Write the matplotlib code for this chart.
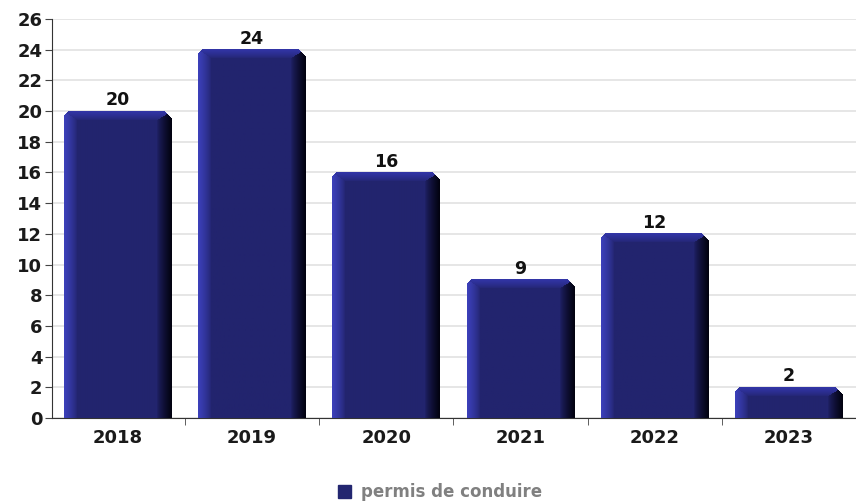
import numpy as np
import matplotlib
matplotlib.use("Agg")
import matplotlib.pyplot as plt
from matplotlib.patches import Rectangle

years = ["2018", "2019", "2020", "2021", "2022", "2023"]
permis = [20, 24, 16, 9, 12, 2]
series_name = "permis de conduire"

base = np.array([0x22, 0x24, 0x6e]) / 255
left_col = np.array([0x3c, 0x40, 0xba]) / 255
top_col = np.array([0x32, 0x35, 0xa6]) / 255
dark = np.array([0x02, 0x02, 0x10]) / 255


def bar_image(w, h):
    # bevelled front face of one bar, w x h pixels
    h = max(int(round(h)), 2)
    w = int(round(w))
    u = np.arange(w)[None, :].repeat(h, 0).astype(float)
    d = np.arange(h)[:, None].repeat(w, 1).astype(float)
    nl = u / 13
    nt = d / 9
    nr = (w - 1 - u) / 15
    n = np.minimum(np.minimum(nl, nt), nr)
    t = np.clip(1 - n, 0, 1) ** 0.75
    edge = np.zeros((h, w, 3))
    edge[:] = base
    edge[nl == n] = left_col
    edge[(nt == n) & (nl != n)] = top_col
    edge[(nr == n)] = dark
    img = np.zeros((h, w, 4))
    img[..., :3] = base * (1 - t[..., None]) + edge * t[..., None]
    img[..., 3] = np.where((d + u < 4) | (d + (w - 1 - u) < 7), 0, 1)
    return img


fig = plt.figure(figsize=(8.56, 5.04), dpi=100)
ax = fig.add_axes([52 / 856, 86 / 504, 804 / 856, 399 / 504])

x = np.arange(len(years))
bars = ax.bar(x, permis, width=0.8, color=base, zorder=2)

xmin, xmax = -0.489, 5.41
px_x = 804 / (xmax - xmin)
px_y = 399 / 26
for b, v in zip(bars, permis):
    x0 = b.get_x()
    w = b.get_width()
    b.set_visible(False)
    img = bar_image(w * px_x, v * px_y)
    ax.imshow(img, extent=(x0, x0 + w, 0, v), aspect="auto",
              interpolation="bilinear", zorder=3)
    ax.text(x0 + w / 2, v + 0.12, str(v), ha="center", va="bottom",
            fontsize=12.5, fontweight="bold", color="#111111", zorder=4)

ax.set_xlim(xmin, xmax)
ax.set_ylim(0, 26)
ax.set_yticks(np.arange(0, 27, 2))
ax.set_xticks(x)
ax.set_xticklabels(years)
ax.set_xticks(np.arange(-0.5, 5.6, 1)[1:], minor=True)
ax.tick_params(axis="x", which="major", length=0, pad=8)
ax.tick_params(axis="x", which="minor", length=5, direction="out", color="#444444")
ax.tick_params(axis="y", length=5, direction="out", color="#444444", pad=2)
for lab in ax.get_xticklabels() + ax.get_yticklabels():
    lab.set_fontsize(13)
    lab.set_fontweight("bold")
    lab.set_color("#1a1a1a")

ax.grid(axis="y", color="#e4e4e4", linewidth=1.3, zorder=0)
ax.set_axisbelow(True)
for side in ["top", "right"]:
    ax.spines[side].set_visible(False)
ax.spines["left"].set_color("#333333")
ax.spines["bottom"].set_color("#333333")

handle = Rectangle((0, 0), 1, 1, color="#232670")
fig.legend([handle], [series_name], loc="center", bbox_to_anchor=(440 / 856, 12 / 504),
           frameon=False, handlelength=0.8, handleheight=0.8, handletextpad=0.6,
           prop={"size": 12, "weight": "bold"}, labelcolor="#808080")

fig.savefig("out.png", dpi=100)
